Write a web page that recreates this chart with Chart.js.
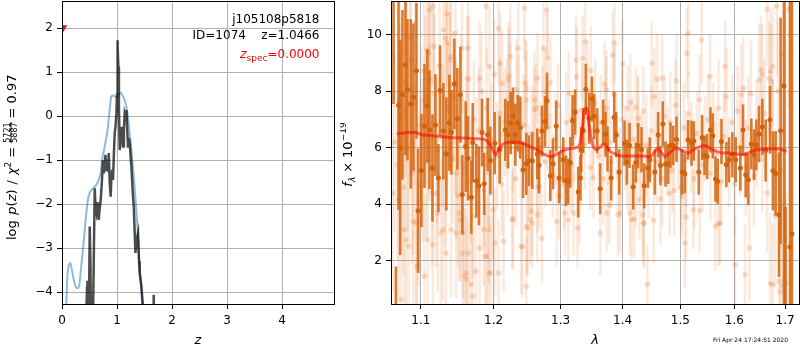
<!DOCTYPE html>
<html><head><meta charset="utf-8">
<script src="https://cdn.jsdelivr.net/npm/chart.js@4/dist/chart.umd.min.js"></script>
<style>
html,body{margin:0;padding:0;background:#fff;width:800px;height:350px;overflow:hidden}
#c1{position:absolute;left:0;top:0}
#c2{position:absolute;left:340px;top:0}
</style></head><body>
<canvas id="c1" width="340" height="350"></canvas>
<canvas id="c2" width="460" height="350"></canvas>
<script>
// ================= LEFT PANEL DATA =================
const zTicks = [0, 1, 2, 3, 4];
const logpTicks = [-4, -3, -2, -1, 0, 1, 2];
const priorZ = [0.06,0.08,0.1,0.125,0.15,0.18,0.22,0.26,0.29,0.32,0.35,0.38,0.42,0.47,0.5,0.53,0.6,0.655,0.7,0.73,0.79,0.836,0.87,0.898,0.93,0.99,1.03,1.06,1.1,1.17,1.2,1.23,1.26,1.29,1.32,1.36,1.385,1.41,1.44,1.47,1.5];
const priorLogP = [-4.6,-4.2,-3.6,-3.38,-3.34,-3.5,-3.75,-3.9,-3.91,-3.8,-3.4,-3.04,-2.5,-1.9,-1.75,-1.69,-1.6,-1.49,-1.3,-0.99,-0.6,-0.24,0.2,0.45,0.47,0.43,0.46,0.54,0.48,0.22,-0.05,-0.39,-0.75,-1.15,-1.6,-2.28,-2.8,-3.42,-3.9,-4.27,-4.7];
const pzZ = [0.43,0.455,0.462,0.475,0.49,0.504,0.515,0.53,0.56,0.58,0.595,0.61,0.625,0.645,0.667,0.685,0.704,0.725,0.745,0.76,0.776,0.79,0.807,0.82,0.836,0.85,0.867,0.885,0.9,0.909,0.927,0.945,0.958,0.975,0.989,1.0,1.007,1.015,1.025,1.035,1.049,1.065,1.08,1.095,1.109,1.125,1.14,1.155,1.171,1.185,1.2,1.215,1.231,1.262,1.285,1.305,1.335,1.36,1.382,1.4,1.413,1.444,1.473,1.5,1.6,1.66,1.667,1.674];
const pzLogP = [-5,-3.9,-3.74,-5,-4.6,-2.51,-3.2,-5,-5,-3.0,-1.64,-2.1,-2.2,-1.95,-2.36,-2.1,-1.9,-1.5,-1.0,-1.3,-1.15,-0.88,-1.25,-1.0,-1.26,-0.84,-1.5,-1.83,-1.3,-1.22,-1.45,-0.8,-0.39,-0.2,0.07,0.5,1.73,1.6,1.13,0.2,-0.77,-0.5,-0.24,-0.5,-0.69,-0.3,0.07,0.0,0.14,-0.3,-0.69,-0.5,-0.61,-1.15,-1.7,-2.05,-3.11,-2.8,-2.66,-3.3,-3.57,-3.87,-4.4,-6,null,-5,-4.06,-5];
const zspecValue = 0.0;
const zspecMarkY = 2.0;
const objName = 'j105108p5818';
const objId = 1074;
const zBest = 1.0466;
const chi2Num = 5721, chi2Den = 5887, chi2Red = 0.97;
const stamp = 'Fri Apr 24 17:24:51 2020';

// ================= RIGHT PANEL DATA =================
const lamTicks = [1.1, 1.2, 1.3, 1.4, 1.5, 1.6, 1.7];
const fluxTicks = [2, 4, 6, 8, 10];
const modelLam = [1.0689,1.0818,1.0905,1.1013,1.1126,1.1258,1.1393,1.1575,1.1764,1.1881,1.1951,1.1999,1.2032,1.2069,1.2143,1.2240,1.2338,1.2436,1.2534,1.2636,1.2763,1.2865,1.2940,1.3042,1.3148,1.3254,1.3307,1.3344,1.3376,1.3413,1.3445,1.3477,1.3519,1.3572,1.3638,1.3693,1.3738,1.3793,1.3876,1.3958,1.4123,1.4295,1.4467,1.4553,1.4593,1.4668,1.4726,1.4816,1.4935,1.5055,1.5145,1.5234,1.5356,1.5449,1.5542,1.5667,1.5791,1.5915,1.6044,1.6173,1.6270,1.6367,1.6496,1.6628,1.6762,1.6896,1.7031];
const modelFlux = [6.48,6.54,6.55,6.46,6.43,6.40,6.36,6.34,6.32,6.28,6.10,5.87,5.75,5.93,6.14,6.19,6.19,6.14,6.04,5.93,5.75,5.69,5.78,5.90,5.96,6.01,6.16,6.75,7.34,7.40,6.87,6.40,6.04,5.93,6.04,6.14,6.04,5.87,5.78,5.71,5.71,5.71,5.69,5.87,5.98,5.81,5.69,5.83,5.98,5.87,5.81,5.93,6.04,6.08,5.98,5.87,5.81,5.81,5.78,5.75,5.81,5.90,5.93,5.96,5.96,5.95,5.87];

const darkLam = [1.0647,1.0677,1.0711,1.0733,1.0761,1.0800,1.0826,1.0869,1.0903,1.0943,
1.0964,1.1008,1.1048,1.1087,1.1114,1.1154,1.1194,1.1234,1.1256,1.1301,
1.1341,1.1382,1.1409,1.1450,1.1491,1.1533,1.1560,1.1606,1.1638,1.1685,
1.1704,1.1755,1.1792,1.1835,1.1867,1.1915,1.1953,1.2015,1.2087,1.2169,
1.2208,1.2247,1.2281,1.2315,1.2350,1.2389,1.2429,1.2478,1.2518,1.2568,
1.2643,1.2668,1.2714,1.2759,1.2790,1.2841,1.2882,1.2933,1.2978,1.3041,
1.3083,1.3119,1.3150,1.3187,1.3229,1.3276,1.3313,1.3324,1.3356,1.3398,
1.3452,1.3495,1.3532,1.3581,1.3630,1.3679,1.3717,1.3750,1.3810,1.3860,
1.3893,1.3943,1.4032,1.4071,1.4116,1.4178,1.4223,1.4263,1.4320,1.4365,
1.4428,1.4463,1.4549,1.4607,1.4648,1.4689,1.4736,1.4783,1.4824,1.4872,
1.4931,1.5032,1.5080,1.5140,1.5201,1.5243,1.5334,1.5396,1.5439,1.5488,
1.5550,1.5593,1.5643,1.5686,1.5755,1.5848,1.5898,1.5962,1.6025,1.6115,
1.6166,1.6218,1.6270,1.6328,1.6380,1.6426,1.6478,1.6544,1.6610,1.6696,
1.6756,1.6809,1.6877,1.6910,1.6978,1.7010,1.7100,1.7141];
const darkFlux = [12.5,-1.5,7.5,6.0,7.87,8.93,8.05,7.55,7.79,8.72,
3.77,5.19,6.77,7.48,6.63,5.28,6.80,4.93,8.02,6.59,
5.78,6.88,6.55,8.26,7.02,7.87,4.34,6.04,5.63,4.25,
6.18,4.83,4.65,6.54,4.72,6.46,5.55,6.16,5.93,6.63,
6.46,6.87,7.13,6.46,6.87,6.71,5.22,5.43,5.54,5.54,
5.78,5.38,6.59,6.93,7.66,5.01,5.43,6.77,4.93,5.57,
4.83,4.81,5.48,6.96,7.26,4.43,4.93,5.93,6.61,8.07,
7.04,7.72,7.10,6.60,4.55,6.90,6.48,5.95,4.93,7.08,
6.46,5.14,6.16,5.49,6.08,4.61,5.48,6.07,5.93,4.65,
5.28,5.57,5.14,6.46,5.37,6.84,5.42,5.42,6.09,6.08,
6.30,5.14,5.08,6.28,6.16,6.24,5.14,6.36,5.73,5.69,
6.63,6.42,4.89,4.81,6.22,5.40,5.57,5.75,5.57,5.28,
6.63,5.04,4.87,6.13,5.75,6.10,6.48,6.73,5.90,6.99,
5.18,5.09,3.63,6.60,8.19,-2.0,2.49,2.95];
const darkErr = [4.95,3.3,3.7,3.8,3.0,3.2,2.5,3.0,2.6,2.4,
2.2,2.0,2.2,2.0,2.1,1.9,1.8,1.2,1.6,1.7,
2.0,1.7,1.5,1.6,1.8,1.7,1.4,1.6,1.5,1.3,
1.4,1.3,1.4,1.2,1.1,1.3,1.2,1.1,1.2,1.1,
1.2,1.1,1.0,1.1,1.0,1.1,1.0,1.1,0.9,1.0,
0.9,1.0,0.9,0.9,1.0,0.9,0.9,0.9,0.9,0.8,
0.9,0.8,0.9,0.9,0.8,0.9,0.8,0.8,0.8,0.9,
0.9,0.8,0.8,0.8,0.9,0.8,0.8,0.8,0.8,0.9,
0.8,0.8,0.8,0.8,0.8,0.8,0.7,0.8,0.8,0.8,
0.7,0.8,0.8,0.8,0.7,0.8,0.8,0.7,0.8,0.7,
0.8,0.8,0.7,0.7,0.8,0.7,0.8,0.8,0.7,0.8,
0.8,0.8,0.8,0.8,0.8,0.8,0.8,0.8,0.8,0.8,
0.9,0.8,0.9,0.9,0.9,0.9,1.0,1.0,1.1,1.2,
1.4,1.5,2.2,4.0,9.0,5.9,10.0,10.0];

const faintLam = [
1.066,1.070,1.073,1.077,1.080,1.083,1.087,1.090,1.093,1.097,
1.100,1.104,1.107,1.111,1.115,1.118,1.122,1.125,1.129,1.132,
1.136,1.139,1.143,1.147,1.150,1.154,1.157,1.161,1.165,1.168,
1.172,1.175,1.179,1.183,1.186,1.190,1.193,1.197,1.201,1.205,
1.209,1.212,1.216,1.220,1.224,1.228,1.232,1.236,1.240,1.244,
1.248,1.252,1.256,1.260,1.264,1.268,1.272,1.276,1.280,1.284,
1.288,1.292,1.296,1.300,1.305,1.309,1.313,1.317,1.321,1.325,
1.330,1.334,1.338,1.342,1.347,1.351,1.355,1.360,1.364,1.368,
1.373,1.377,1.381,1.386,1.390,1.395,1.399,1.404,1.408,1.413,
1.417,1.422,1.426,1.431,1.435,1.440,1.444,1.449,1.454,1.458,
1.463,1.468,1.472,1.477,1.482,1.486,1.491,1.496,1.501,1.506,
1.510,1.515,1.520,1.525,1.530,1.535,1.540,1.545,1.550,1.555,
1.560,1.565,1.570,1.575,1.580,1.585,1.590,1.596,1.601,1.606,
1.611,1.617,1.622,1.627,1.632,1.638,1.643,1.648,1.654,1.659,
1.664,1.670,1.675,1.680,1.686,1.691,1.697,1.702,1.708,
1.0711,1.0741,1.0784,1.0810,1.0840,1.0883,1.0940,1.0991,1.1027,1.1058,
1.1103,1.1126,1.1171,1.1207,1.1225,1.1296,1.1328,1.1350,1.1404,1.1440,
1.1476,1.1530,1.1566,1.1594,1.1622,1.1646,1.1707,1.1749,1.1801,1.1857,
1.1881,1.1904,1.1932,1.1961,1.1990,1.2022,1.2069,1.2094,1.2123,1.2143,
1.2192,1.2216,1.2270,1.2328,1.2402,1.2460,1.2485,1.2534,1.2559,1.2595,
1.2646,1.2676,1.2712,1.2737,1.2768,1.2788,1.2839,1.2940,1.2976,1.3069,
1.3175,1.3201,1.3244,1.3265,1.3297,1.3387,1.3519,1.3633,1.3738,1.3837,
1.3865,1.3958,1.4123,1.4152,1.4284,1.4353,1.4421,1.4496,1.5115,1.5145,
1.5234,1.5387,1.5542,1.5729,1.5822,1.6012,1.6206,1.6290,1.6640,1.6700,
1.6830,1.6900,1.6950,1.6980,
1.4588,1.4678,1.4342,1.4360,1.4530,1.4648,1.4810,1.4890,1.4931,1.5032,
1.5105,1.5080,1.5349,1.5643,1.5701,
1.6130,1.6520,1.6540,1.6680,1.6750,1.6720,1.6750,1.6877,
1.3346,1.3478,1.3700,1.3730,1.3996,1.4086,1.4223,1.4260,1.3120,1.3780,
1.3920,1.4195,
1.1895,1.2242,1.2360,1.2450,1.2800,1.1800,1.1943,1.2220,1.2478,1.2628,
1.1930,1.2070,1.2281,1.2478,1.2420,1.2500,1.2568,1.2643,
1.1114,1.1160,1.1083,1.1301,1.1351,1.1465,1.1558,1.1625,1.1638,1.1391,
1.0861,1.0927,1.0817,1.0732,1.0638,1.0903,1.0947,1.1048,1.1092,1.1159,
1.1268,1.1337,1.1405,1.1473,1.1520,1.1565,1.1611,1.1680,1.1705];
const faintFlux = [
6.2,5.4,7.1,4.6,8.3,6.0,9.1,5.2,7.6,4.1,
6.8,8.7,5.5,6.9,4.4,7.9,5.9,8.9,6.4,4.9,
7.3,8.2,5.6,6.7,4.3,7.7,5.3,6.1,8.4,4.8,
7.0,5.8,6.6,8.0,4.5,7.4,5.1,6.3,8.6,5.7,
7.2,4.7,6.9,5.4,7.8,6.2,4.9,7.5,5.9,6.8,
8.1,5.2,6.5,7.7,4.6,6.0,7.2,5.5,6.7,8.3,
5.0,6.3,7.5,5.8,4.7,6.9,7.9,5.4,6.4,8.5,
5.9,7.3,6.1,8.0,5.3,6.6,7.6,5.7,6.9,4.9,
7.4,6.2,5.5,7.9,6.4,5.1,7.0,6.0,5.4,7.6,
6.3,4.8,6.8,5.7,7.3,6.1,5.0,6.6,7.8,5.5,
6.4,4.9,7.1,5.9,6.9,5.2,7.5,6.2,4.6,6.7,
5.6,7.2,6.0,4.9,6.5,7.7,5.4,6.3,7.0,5.1,
6.8,5.8,7.4,4.8,6.4,7.8,5.5,6.9,4.7,7.3,
6.0,8.1,5.3,6.7,7.9,5.0,6.5,8.4,5.6,7.2,
4.4,8.7,6.1,3.6,8.0,5.2,9.3,1.2,10.9,
4.16,0.63,3.10,2.74,2.51,5.10,3.33,4.69,5.57,7.69,
9.34,8.40,9.58,4.39,3.69,3.10,9.87,9.70,9.22,7.81,
5.10,3.45,2.98,1.45,1.33,2.27,3.57,1.63,2.45,3.10,
2.16,2.16,3.10,1.57,3.81,2.63,10.22,8.99,8.28,2.69,
7.46,8.40,3.45,8.05,2.51,8.28,3.22,3.45,3.75,7.34,
8.46,4.63,2.80,9.52,7.99,10.87,5.69,3.39,4.28,3.69,
6.10,3.69,9.11,3.16,4.10,9.75,4.93,2.98,3.69,9.28,
9.70,3.69,3.69,3.45,4.16,3.33,1.16,8.99,9.34,10.05,
3.81,9.81,8.52,3.33,8.87,1.86,1.51,2.45,10.9,1.2,
11.0,0.9,1.1,1.3,
8.42,8.46,3.63,3.33,3.43,4.19,4.39,4.49,8.36,4.28,
3.55,2.63,3.78,3.22,3.31,
7.87,8.75,8.58,8.46,8.87,8.34,1.15,1.27,
9.17,8.72,8.25,8.05,8.96,7.40,7.42,7.04,3.45,3.96,
3.63,3.48,
11.0,9.22,9.52,10.93,9.17,8.45,8.87,8.54,7.69,7.40,
1.57,1.57,3.48,1.10,2.49,3.16,3.33,3.63,
10.87,11.0,9.46,10.17,10.73,10.05,9.52,8.46,9.52,9.1,
9.87,10.4,9.34,7.69,4.39,3.39,1.80,1.45,2.74,2.57,
2.98,2.27,3.10,2.98,3.69,2.27,1.57,1.16,0.74];
const faintErr = [
3.2,3.4,3.3,3.1,3.3,3.0,3.2,3.0,2.9,3.0,
2.8,3.0,2.7,2.8,2.6,2.8,2.6,2.7,2.5,2.4,
2.5,2.6,2.3,2.4,2.5,2.3,2.4,2.2,2.3,2.2,
2.1,2.0,2.2,2.1,2.0,2.1,1.9,2.0,2.0,1.9,
2.0,1.8,1.9,1.8,1.9,1.8,1.7,1.8,1.7,1.8,
1.7,1.6,1.7,1.7,1.6,1.6,1.7,1.6,1.5,1.6,
1.5,1.6,1.5,1.7,1.6,1.8,1.5,1.7,1.6,1.8,
1.5,1.7,1.6,1.8,1.5,1.7,1.6,1.5,1.7,1.6,
1.8,1.5,1.6,1.7,1.5,1.6,1.8,1.5,1.6,1.7,
1.5,1.6,1.7,1.5,1.6,1.8,1.5,1.6,1.7,1.5,
1.6,1.7,1.5,1.6,1.8,1.5,1.6,1.7,1.5,1.6,
1.7,1.5,1.6,1.8,1.5,1.6,1.7,1.5,1.6,1.7,
1.5,1.6,1.7,1.5,1.6,1.7,1.6,1.7,1.8,1.6,
1.7,1.8,1.7,1.8,1.9,1.8,1.9,2.0,1.9,2.0,
2.1,2.2,2.3,2.5,2.6,2.8,3.0,3.2,3.5,
3.5,3.6,3.4,3.3,3.5,3.2,3.0,3.1,2.9,3.0,
2.8,2.9,2.7,2.6,2.8,2.5,2.6,2.4,2.5,2.3,
2.4,2.2,2.3,2.4,2.2,2.1,2.2,2.0,2.1,2.0,
1.9,2.1,1.9,2.0,1.8,1.9,2.0,1.8,1.9,1.8,
1.7,1.8,1.7,1.8,1.7,1.6,1.7,1.6,1.6,1.5,
1.6,1.5,1.6,1.7,1.5,1.6,1.5,1.6,1.5,1.5,
1.4,1.5,1.6,1.4,1.5,1.6,1.4,1.5,1.4,1.5,
1.4,1.4,1.5,1.4,1.4,1.5,1.4,1.5,1.6,1.5,
1.4,1.6,1.5,1.5,1.6,1.7,1.8,1.9,2.0,2.5,
2.5,2.8,3.0,3.0,
1.6,1.5,1.5,1.6,1.5,1.6,1.5,1.6,1.7,1.5,
1.5,1.6,1.5,1.6,1.5,
1.8,1.9,1.8,2.0,2.1,2.0,2.2,2.4,
1.5,1.6,1.5,1.4,1.6,1.5,1.4,1.5,1.5,1.4,
1.5,1.4,
2.1,1.9,1.8,1.9,1.6,2.0,2.1,1.9,1.7,1.6,
2.0,1.9,1.8,1.7,1.8,1.7,1.6,1.7,
2.7,2.8,2.8,2.6,2.5,2.4,2.3,2.2,2.3,2.5,
3.2,3.1,3.3,3.4,3.5,3.1,3.0,2.9,2.8,2.7,
2.6,2.5,2.4,2.3,2.4,2.2,2.3,2.1,2.2];

// ================= HELPERS =================
const FONT = '"DejaVu Sans", "Liberation Sans", sans-serif';
Chart.defaults.font.family = FONT;
Chart.defaults.font.size = 12;
Chart.defaults.color = '#000';

const pts = (xs, ys) => xs.map((x, i) => ({x: x, y: ys[i]}));
function errSegments(xs, ys, es) {
  const n = Math.min(xs.length, ys.length, es.length);
  const out = [];
  for (let i = 0; i < n; i++) {
    out.push({x: xs[i], y: ys[i] - es[i]}, {x: xs[i], y: ys[i] + es[i]}, {x: xs[i], y: null});
  }
  return out;
}
function ptsN(xs, ys, es) {
  const n = Math.min(xs.length, ys.length, es.length);
  const out = [];
  for (let i = 0; i < n; i++) out.push({x: xs[i], y: ys[i]});
  return out;
}
const minus = v => String(v).replace('-', '\u2212');

function richText(ctx, pieces, x, y, opts) {
  ctx.save();
  ctx.translate(x, y);
  if (opts.rotate) ctx.rotate(-Math.PI / 2);
  const setFont = p => { ctx.font = (p.italic ? 'italic ' : '') + p.size + 'px ' + FONT; };
  let total = 0;
  for (const p of pieces) {
    if (p.gap) { p.w = p.gap; }
    else if (p.frac) {
      ctx.font = p.size + 'px ' + FONT;
      p.w = Math.max(ctx.measureText(p.frac[0]).width, ctx.measureText(p.frac[1]).width) + 2;
    } else { setFont(p); p.w = ctx.measureText(p.t).width; }
    total += p.w;
  }
  let cx = opts.align === 'right' ? -total : (opts.align === 'left' ? 0 : -total / 2);
  ctx.textBaseline = 'alphabetic';
  for (const p of pieces) {
    const col = p.color || opts.color || '#000';
    ctx.fillStyle = col; ctx.strokeStyle = col;
    if (p.gap) { }
    else if (p.frac) {
      ctx.font = p.size + 'px ' + FONT;
      ctx.textAlign = 'center';
      ctx.fillText(p.frac[0], cx + p.w / 2, p.numY);
      ctx.fillText(p.frac[1], cx + p.w / 2, p.denY);
      ctx.lineWidth = 0.8;
      ctx.beginPath(); ctx.moveTo(cx + 0.5, p.barY); ctx.lineTo(cx + p.w - 0.5, p.barY); ctx.stroke();
    } else {
      setFont(p); ctx.textAlign = 'left';
      ctx.fillText(p.t, cx, p.dy || 0);
    }
    cx += p.w;
  }
  ctx.restore();
}

const framePlugin = {
  id: 'frame',
  afterDraw(chart) {
    const {ctx, chartArea: a} = chart;
    ctx.save();
    ctx.strokeStyle = '#000'; ctx.lineWidth = 1;
    ctx.strokeRect(Math.round(a.left) + 0.5, Math.round(a.top) + 0.5,
                   Math.round(a.right) - Math.round(a.left), Math.round(a.bottom) - Math.round(a.top));
    ctx.restore();
  }
};

function axis(ticksArr, fmt, fit, isX, extra) {
  return Object.assign({
    afterBuildTicks: s => { s.ticks = ticksArr.map(v => ({value: v})); },
    afterFit: s => {
      if (isX) s.height = fit; else s.width = fit;
      s.paddingTop = 0; s.paddingBottom = 0; s.paddingLeft = 0; s.paddingRight = 0;
    },
    ticks: {autoSkip: false, maxRotation: 0, minRotation: 0, padding: isX ? 5 : 4, color: '#000',
            font: {size: 12, family: FONT}, callback: v => fmt(v)},
    grid: {color: '#b0b0b0', lineWidth: 1, tickLength: 5, tickColor: '#000', tickWidth: 1, drawTicks: true},
    border: {display: false}
  }, extra);
}

// ================= LEFT CHART =================
const leftText = {
  id: 'leftText',
  afterDraw(chart) {
    const ctx = chart.ctx;
    ctx.save();
    ctx.font = '12px ' + FONT; ctx.fillStyle = '#000'; ctx.textAlign = 'right'; ctx.textBaseline = 'alphabetic';
    ctx.fillText(objName, 319.5, 23.3);
    ctx.fillText('ID=' + objId + '    z=' + zBest.toFixed(4), 319.5, 39);
    ctx.restore();
    richText(ctx, [
      {t: 'z', size: 12.5, italic: true},
      {t: 'spec', size: 9, dy: 2.5},
      {t: '=' + zspecValue.toFixed(4), size: 12}
    ], 319.5, 58.3, {align: 'right', color: '#ff0000'});
    // y label
    richText(ctx, [
      {t: 'log', size: 13}, {gap: 5.5},
      {t: 'p', size: 13, italic: true}, {t: '(', size: 13}, {t: 'z', size: 13, italic: true}, {t: ')', size: 13},
      {gap: 5}, {t: '/', size: 13}, {gap: 5},
      {t: '\u03c7', size: 13, italic: true}, {t: '2', size: 9, dy: -5},
      {gap: 4}, {t: '=', size: 13}, {gap: 3},
      {frac: [String(chi2Num), String(chi2Den)], size: 8, numY: -6.2, denY: 0.8, barY: -4.9},
      {gap: 3}, {t: '=', size: 13}, {gap: 4},
      {t: chi2Red.toFixed(2), size: 13}
    ], 16, 240, {rotate: true, align: 'left'});
    // x label
    richText(ctx, [{t: 'z', size: 13, italic: true}], 198, 344, {align: 'center'});
  }
};

new Chart(document.getElementById('c1'), {
  type: 'scatter',
  data: {
    datasets: [
      {data: [{x: zspecValue, y: zspecMarkY}], pointStyle: 'triangle', pointRotation: 180, pointRadius: 6,
       pointBackgroundColor: '#ff0000', pointBorderColor: '#ff0000', pointBorderWidth: 0, clip: 0},
      {data: pts(pzZ, pzLogP), showLine: true, borderColor: 'rgba(0,0,0,0.7)', borderWidth: 2.5,
       pointRadius: 0, spanGaps: false, tension: 0, clip: 0},
      {data: pts(priorZ, priorLogP), showLine: true, borderColor: 'rgba(31,119,180,0.5)', borderWidth: 2,
       pointRadius: 0, cubicInterpolationMode: 'monotone', clip: 0}
    ]
  },
  options: {
    responsive: false, animation: false, devicePixelRatio: 1, events: [],
    layout: {autoPadding: false, padding: {left: 0, top: 1, right: 6, bottom: 0}},
    plugins: {legend: {display: false}, tooltip: {enabled: false}},
    scales: {
      x: axis(zTicks, v => minus(v), 46, true, {type: 'linear', min: 0, max: 4.945}),
      y: axis(logpTicks, v => minus(v), 62, false, {type: 'linear', min: -4.27, max: 2.62})
    }
  },
  plugins: [framePlugin, leftText]
});

// ================= RIGHT CHART =================
const rightText = {
  id: 'rightText',
  afterDraw(chart) {
    const ctx = chart.ctx;
    richText(ctx, [
      {t: 'f', size: 13, italic: true}, {t: '\u03bb', size: 9, italic: true, dy: 3},
      {gap: 4}, {t: '\u00d7', size: 13}, {gap: 4}, {t: '10', size: 13}, {t: '\u221219', size: 9, dy: -5.5}
    ], 11.7, 186.7, {rotate: true, align: 'left'});
    richText(ctx, [{t: '\u03bb', size: 13, italic: true}], 255, 344, {align: 'center'});
    ctx.save();
    ctx.font = '6px ' + FONT; ctx.fillStyle = '#000'; ctx.textAlign = 'right'; ctx.textBaseline = 'alphabetic';
    ctx.fillText(stamp, 448, 341.5);
    ctx.restore();
  }
};

new Chart(document.getElementById('c2'), {
  type: 'scatter',
  data: {
    datasets: [
      {data: pts(modelLam, modelFlux), showLine: true, borderColor: 'rgba(255,0,0,0.55)', borderWidth: 3,
       pointRadius: 0, cubicInterpolationMode: 'monotone', clip: 0},
      {data: ptsN(darkLam, darkFlux, darkErr), pointRadius: 2.5, pointBackgroundColor: 'rgb(210,98,14)',
       pointBorderWidth: 0, clip: 0},
      {data: errSegments(darkLam, darkFlux, darkErr), showLine: true, borderColor: 'rgba(213,101,14,0.85)',
       borderWidth: 2.6, borderCapStyle: 'butt', pointRadius: 0, spanGaps: false, segment: {}, clip: 0},
      {data: ptsN(faintLam, faintFlux, faintErr), pointRadius: 2.7, pointBackgroundColor: 'rgba(230,125,50,0.26)',
       pointBorderWidth: 0, clip: 0},
      {data: errSegments(faintLam, faintFlux, faintErr), showLine: true, borderColor: 'rgba(233,125,50,0.16)',
       borderWidth: 2.6, borderCapStyle: 'butt', pointRadius: 0, spanGaps: false, segment: {}, clip: 0}
    ]
  },
  options: {
    responsive: false, animation: false, devicePixelRatio: 1, events: [],
    layout: {autoPadding: false, padding: {left: 0, top: 1, right: 1, bottom: 0}},
    plugins: {legend: {display: false}, tooltip: {enabled: false}},
    scales: {
      x: axis(lamTicks, v => Number(v).toFixed(1), 46, true, {type: 'logarithmic', min: 1.0615, max: 1.7285}),
      y: axis(fluxTicks, v => minus(v), 51, false, {type: 'linear', min: 0.47, max: 11.19})
    }
  },
  plugins: [framePlugin, rightText]
});
</script>
</body></html>
